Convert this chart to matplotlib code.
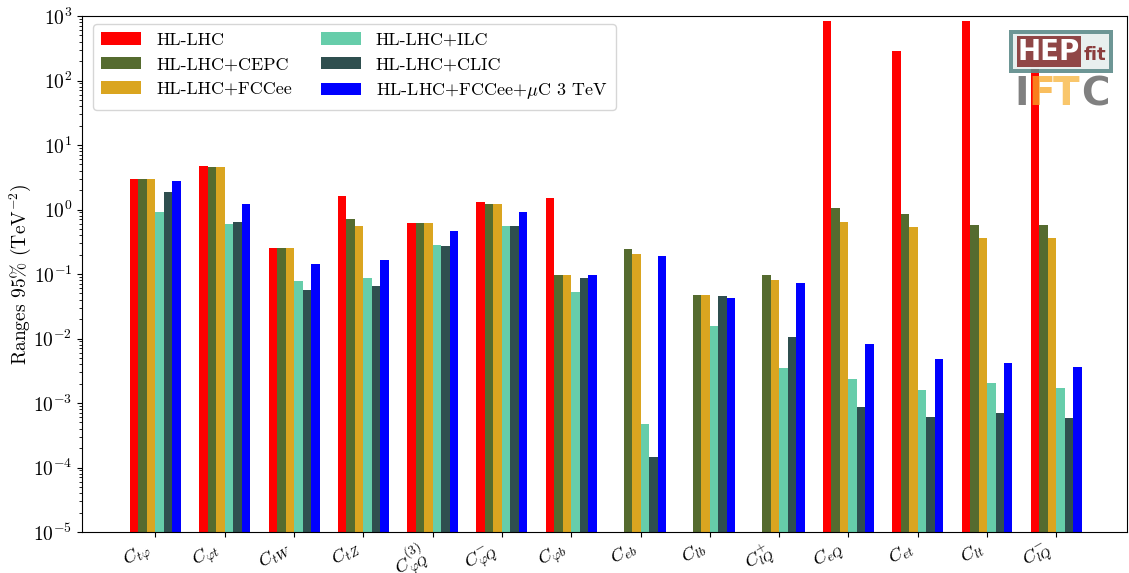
import numpy as np
import matplotlib
matplotlib.use("Agg")
import matplotlib.pyplot as plt
from matplotlib.patches import Rectangle

plt.rcParams["font.family"] = "serif"
plt.rcParams["font.serif"] = ["cmr10"]
plt.rcParams["mathtext.fontset"] = "cm"
plt.rcParams["axes.formatter.use_mathtext"] = True
plt.rcParams["axes.unicode_minus"] = False

# Wilson coefficients
coefficients = [
    r"$C_{t\varphi}$", r"$C_{\varphi t}$", r"$C_{tW}$", r"$C_{tZ}$",
    r"$C_{\varphi Q}^{(3)}$", r"$C_{\varphi Q}^{-}$", r"$C_{\varphi b}$",
    r"$C_{eb}$", r"$C_{lb}$", r"$C_{lQ}^{+}$", r"$C_{eQ}$", r"$C_{et}$",
    r"$C_{lt}$", r"$C_{lQ}^{-}$",
]

scenarios = [
    "HL-LHC", "HL-LHC+CEPC", "HL-LHC+FCCee",
    "HL-LHC+ILC", "HL-LHC+CLIC", r"HL-LHC+FCCee+$\mu$C 3 TeV",
]
colors = ["#ff0000", "#556b2f", "#daa520", "#66cdaa", "#2f4f4f", "#0000ff"]

# 95% ranges (TeV^-2); nan = coefficient not constrained in that scenario
hl_lhc = [2.97, 4.72, 0.253, 1.62, 0.618, 1.31, 1.51,
          np.nan, np.nan, np.nan, 836.0, 287.0, 836.0, 174.0]
hl_cepc = [2.97, 4.56, 0.253, 0.713, 0.618, 1.22, 0.0965,
           0.244, 0.0472, 0.0965, 1.05, 0.851, 0.575, 0.585]
hl_fccee = [2.97, 4.56, 0.253, 0.555, 0.618, 1.22, 0.0965,
            0.204, 0.0472, 0.0807, 0.64, 0.536, 0.361, 0.361]
hl_ilc = [0.914, 0.596, 0.0779, 0.0867, 0.282, 0.555, 0.0526,
          4.56e-4, 0.0156, 3.49e-3, 2.36e-3, 1.59e-3, 2.04e-3, 1.71e-3]
hl_clic = [1.87, 0.64, 0.0565, 0.0652, 0.272, 0.555, 0.0867,
           1.36e-4, 0.0456, 0.01055, 8.67e-4, 6.07e-4, 7.0e-4, 5.85e-4]
hl_fccee_muc = [2.77, 1.22, 0.143, 0.165, 0.464, 0.914, 0.0975,
                0.190, 0.0425, 0.0724, 8.22e-3, 4.81e-3, 4.17e-3, 3.61e-3]

series = [hl_lhc, hl_cepc, hl_fccee, hl_ilc, hl_clic, hl_fccee_muc]

fig = plt.figure(figsize=(11.29, 5.73), dpi=100)
ax = fig.add_axes([82 / 1129, 1 - 532 / 573, (1127 - 82) / 1129, (532 - 16) / 573])

x = np.arange(len(coefficients))
width = 0.1225
for k, (vals, col, lab) in enumerate(zip(series, colors, scenarios)):
    vals = np.asarray(vals, dtype=float)
    ok = ~np.isnan(vals)
    ax.bar(x[ok] + (k - 2.5) * width, vals[ok], width=width, color=col,
           label=lab, bottom=1e-5)

ax.set_yscale("log")
ax.set_ylim(1e-5, 1e3)
ax.set_xlim(-1.06, 14.02)
ax.set_xticks(x)
ax.set_xticklabels(coefficients, rotation=30, ha="right", fontsize=13.5)
ax.tick_params(axis="x", pad=1)
ax.tick_params(axis="y", labelsize=14)
ax.set_ylabel(r"Ranges 95% (TeV$^{-2}$)", fontsize=14)
ax.yaxis.set_label_coords(-0.047, 0.5)

ax.legend(loc="upper left", ncol=2, fontsize=13, frameon=True,
          bbox_to_anchor=(0.0105, 0.9845), borderaxespad=0,
          columnspacing=1.6, handlelength=2.2, handletextpad=0.85,
          labelspacing=0.5, borderpad=0.45)

# HEPfit / IFIC logo in the upper-right corner
lax = fig.add_axes([1009 / 1129, 1 - 112 / 573, 104 / 1129, 82 / 573])
lax.set_xlim(0, 104)
lax.set_ylim(82, 0)
lax.axis("off")
lax.patch.set_alpha(0)
lax.add_patch(Rectangle((0, 0), 104, 43, facecolor="#5d8b8a", edgecolor="none", alpha=0.9))
lax.add_patch(Rectangle((4, 4), 96, 35, facecolor="white", edgecolor="none", alpha=0.85))
lax.add_patch(Rectangle((8, 6), 64, 31, facecolor="#8b3d3d", edgecolor="none", alpha=0.95))
lax.text(40, 22, "HEP", color="white", fontsize=20, fontweight="bold",
         family="DejaVu Sans", ha="center", va="center")
lax.text(86, 25, "fit", color="#8b3d3d", fontsize=13, fontweight="bold",
         family="DejaVu Sans", ha="center", va="center")
for ch, xc, col in [("I", 13, "#555555"), ("F", 33, "#f7a928"),
                    ("T", 57, "#f7b43a"), ("C", 86, "#555555")]:
    lax.text(xc, 64, ch, color=col, fontsize=28, fontweight="bold",
             family="DejaVu Sans", ha="center", va="center", alpha=0.75)

fig.savefig("out.png", dpi=100)
